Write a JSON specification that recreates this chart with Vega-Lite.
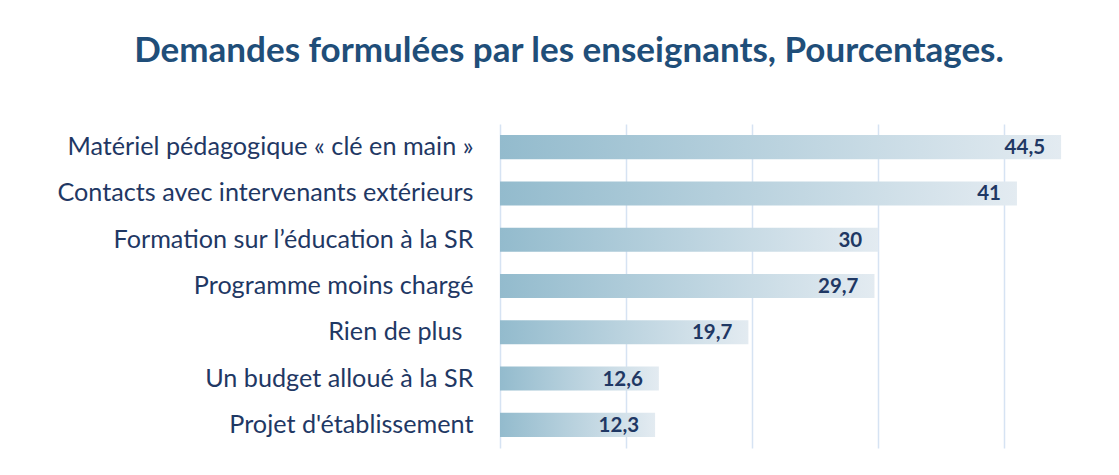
{
  "$schema": "https://vega.github.io/schema/vega-lite/v6.json",
  "width": 580,
  "height": 324,
  "autosize": {"type": "none"},
  "padding": {"left": 500, "top": 124, "right": 39, "bottom": 27},
  "background": "white",
  "title": {
    "text": "Demandes formulées par les enseignants, Pourcentages.",
    "font": "Lato",
    "fontSize": 35,
    "fontWeight": "bold",
    "color": "#1f4e79",
    "anchor": "middle",
    "frame": "group",
    "dx": -221,
    "offset": 27,
    "baseline": "alphabetic"
  },
  "config": {"view": {"stroke": null}},
  "data": {
    "values": [
      {"demande": "Matériel pédagogique « clé en main »", "pct": 44.5, "label": "44,5"},
      {"demande": "Contacts avec intervenants extérieurs", "pct": 41, "label": "41"},
      {"demande": "Formation sur l’éducation à la SR", "pct": 30, "label": "30"},
      {"demande": "Programme moins chargé", "pct": 29.7, "label": "29,7"},
      {"demande": "Rien de plus", "pct": 19.7, "label": "19,7"},
      {"demande": "Un budget alloué à la SR", "pct": 12.6, "label": "12,6"},
      {"demande": "Projet d'établissement", "pct": 12.3, "label": "12,3"}
    ]
  },
  "encoding": {
    "y": {
      "field": "demande",
      "type": "nominal",
      "sort": null,
      "title": null,
      "scale": {"paddingInner": 0.48, "paddingOuter": 0.24},
      "axis": {
        "domain": false,
        "ticks": false,
        "labelFont": "Lato",
        "labelFontSize": 25.2,
        "labelColor": "#1f3864",
        "labelPadding": {"condition": {"test": "datum.value === 'Rien de plus'", "value": 38}, "value": 27},
        "labelLimit": 600
      }
    },
    "x": {
      "field": "pct",
      "type": "quantitative",
      "title": null,
      "scale": {"domain": [0, 46], "nice": false},
      "axis": {
        "values": [0, 10, 20, 30, 40],
        "labels": false,
        "ticks": false,
        "domain": false,
        "grid": true,
        "gridColor": "#d6e3f3",
        "gridWidth": 1.5
      }
    }
  },
  "layer": [
    {
      "mark": {
        "type": "bar",
        "fill": {
          "gradient": "linear",
          "x1": 0, "x2": 1, "y1": 0, "y2": 0,
          "stops": [
            {"offset": 0, "color": "#93bbcd"},
            {"offset": 1, "color": "#e3ebf1"}
          ]
        }
      }
    },
    {
      "mark": {
        "type": "text",
        "align": "right",
        "baseline": "middle",
        "dx": -16,
        "dy": 1,
        "font": "Lato",
        "fontSize": 20.5,
        "fontWeight": "bold",
        "color": "#1f3864"
      },
      "encoding": {"text": {"field": "label"}}
    }
  ]
}
